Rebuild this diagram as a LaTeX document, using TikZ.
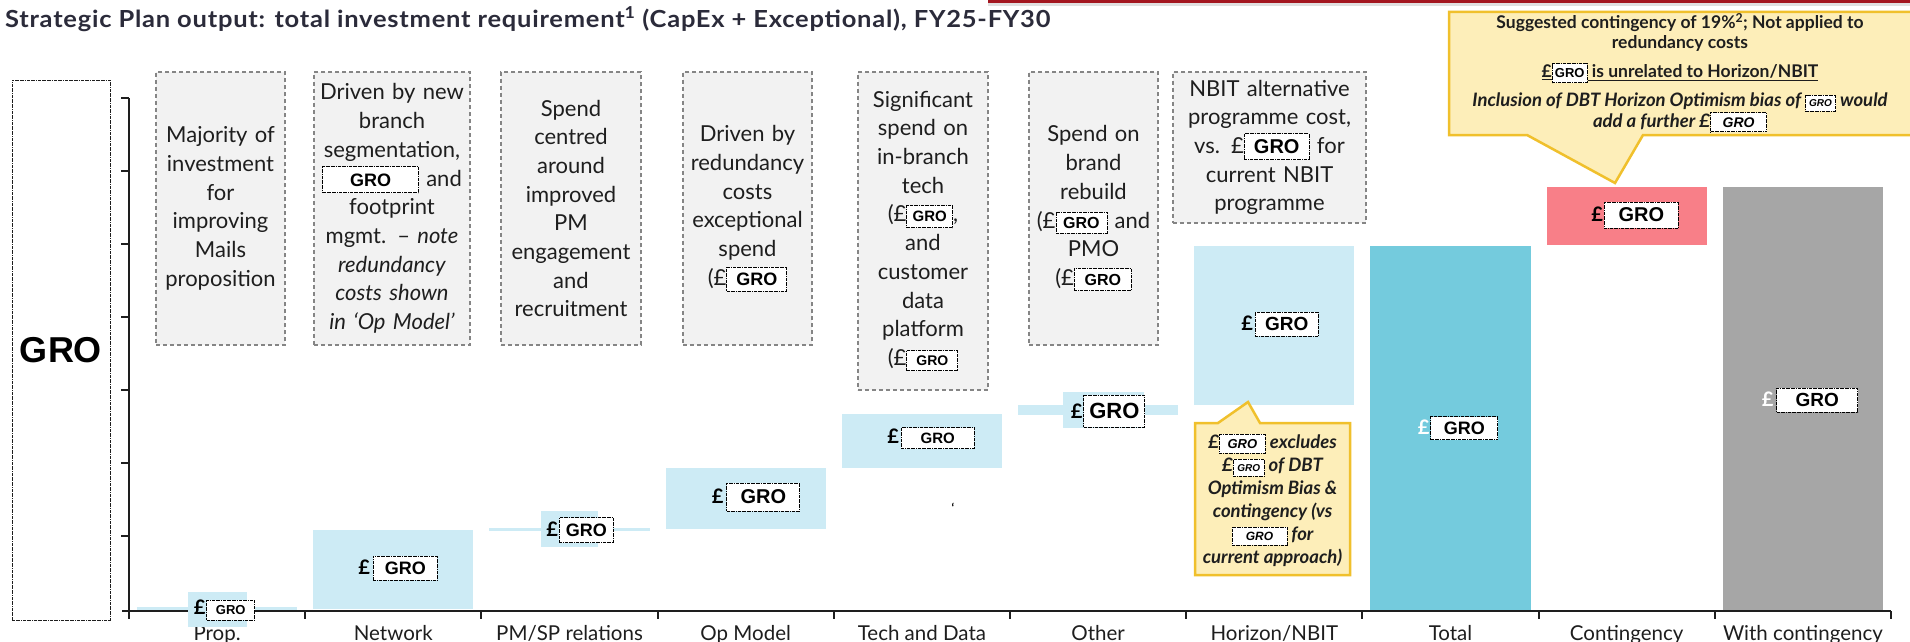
\documentclass[tikz,border=0pt]{standalone}
\usepackage{fontspec}
\setmainfont{Lato}
\newfontfamily\arialf{Liberation Sans}
\newfontfamily\titlefont[LetterSpace=3]{Lato}

\definecolor{barlight}{HTML}{CDEBF5}
\definecolor{bartotal}{HTML}{74CBDD}
\definecolor{barcont}{HTML}{F87F88}
\definecolor{bargray}{HTML}{A6A6A6}
\definecolor{notefill}{HTML}{F2F2F2}
\definecolor{noteline}{HTML}{858585}
\definecolor{callfill}{HTML}{FDEEB9}
\definecolor{callline}{HTML}{F0C02C}
\definecolor{titlecol}{HTML}{2B2B3A}
\definecolor{inkcol}{HTML}{1E1E1E}
\definecolor{rulered}{HTML}{A3161F}

\tikzset{
  grobox/.style={draw=black, fill=white, densely dash dot, line width=0.8pt, inner sep=0pt, text=black},
  notebox/.style={draw=noteline, fill=notefill, dash pattern=on 4pt off 3pt, line width=1.4pt,
    align=center, inner xsep=2pt, inner ysep=0pt, font=\fontsize{22}{28.7}\selectfont, text=inkcol},
  catlabel/.style={anchor=base, inner sep=0pt, font=\fontsize{20.5}{24}\selectfont, text=inkcol},
  barlabel/.style={inner sep=0pt, text=black, font=\bfseries\fontsize{20}{24}\selectfont},
  calltext/.style={align=center, inner sep=0pt, font=\bfseries\fontsize{17.5}{19.5}\selectfont, text=inkcol},
  axisline/.style={draw=inkcol, line width=2.6pt},
}

% dash-dot "GRO" placeholder box: width, height, font size
\newcommand\gro[3]{\tikz[baseline=(gro.base)]\node[grobox, minimum width=#1pt, minimum height=#2pt,
  font=\arialf\bfseries\fontsize{#3}{#3}\selectfont] (gro) {GRO};}

\begin{document}
\begin{tikzpicture}[x=1pt,y=-1pt]
\useasboundingbox (0,0) rectangle (1910,642);
\fill[white] (0,0) rectangle (1910,642);

% header rule
\fill[black!12] (988,2.5) rectangle (1910,6);
\fill[rulered] (988,0) rectangle (1910,2.6);

% title
\node[anchor=base west, inner sep=0pt, font=\titlefont\bfseries\fontsize{23.5}{26}\selectfont, text=titlecol] (title) at (5,28)
  {\scalebox{1.085}[1]{Strategic Plan output: total investment requirement\textsuperscript{1} (CapEx + Exceptional), FY25-FY30}};

% side placeholder
\node[draw=inkcol, densely dash dot, line width=0.9pt, minimum width=98pt, minimum height=540pt, inner sep=0pt] (side) at (61,350) {};
\node[inner sep=0pt, font=\arialf\bfseries\fontsize{36}{36}\selectfont] (sidegro) at (61,350) {GRO};

% commentary boxes
\node[notebox, minimum width=129pt, minimum height=273pt, text width=125pt] (n1) at (220.5,208.5)
  {Majority of\\investment\\for\\improving\\Mails\\proposition};
\node[notebox, minimum width=156pt, minimum height=273pt, text width=152pt] (n2) at (392,208.5)
  {Driven by new\\branch\\segmentation,\\\gro{96}{26}{18} and\\footprint\\mgmt. – \textit{note}\\\textit{redundancy}\\\textit{costs shown}\\\textit{in ‘Op Model’}};
\node[notebox, minimum width=140pt, minimum height=273pt, text width=136pt] (n3) at (571,208.5)
  {Spend\\centred\\around\\improved\\PM\\engagement\\and\\recruitment};
\node[notebox, minimum width=129pt, minimum height=273pt, text width=125pt] (n4) at (747.5,208.5)
  {Driven by\\redundancy\\costs\\exceptional\\spend\\(£\gro{60}{24}{18}};
\node[notebox, minimum width=130pt, minimum height=318pt, text width=126pt] (n5) at (923,231)
  {Significant\\spend on\\in-branch\\tech\\(£\gro{46}{22}{15},\\and\\customer\\data\\platform\\(£\gro{51}{20}{14}};
\node[notebox, minimum width=129pt, minimum height=273pt, text width=125pt] (n6) at (1093.5,208.5)
  {Spend on\\brand\\rebuild\\(£\gro{51}{21}{16} and\\PMO\\(£\gro{57}{22}{16}};
\node[notebox, minimum width=193pt, minimum height=151pt, text width=189pt] (n7) at (1269.5,147.5)
  {NBIT alternative\\programme cost,\\vs. £\gro{65}{26}{20} for\\current NBIT\\programme};

% waterfall bars
\fill[barlight] (137,607) rectangle (297.2,610);
\fill[barlight] (313.2,530) rectangle (473.4,609);
\fill[barlight] (489.4,528) rectangle (649.6,531);
\fill[barlight] (665.6,468) rectangle (825.8,529);
\fill[barlight] (841.8,414) rectangle (1002,468);
\fill[barlight] (1018,405) rectangle (1178.2,415);
\fill[barlight] (1194.2,246) rectangle (1354.4,405);
\fill[bartotal] (1370.4,246) rectangle (1530.6,610);
\fill[barcont] (1546.6,187) rectangle (1706.8,245);
\fill[bargray] (1722.8,187) rectangle (1883,610);

% axes
\draw[axisline] (122,611) -- (1891,611);
\draw[axisline] (129,98) -- (129,611);
\foreach \yy in {98,171,244,317,390,463,536}
  \draw[axisline, line width=2.4pt] (121,\yy) -- (129,\yy);
\foreach \ii in {0,...,10}
  \draw[axisline, line width=2pt] ({129+176.2*\ii},611) -- ({129+176.2*\ii},619);

% category labels
\node[catlabel] (c0) at (217.1,640) {Prop.};
\node[catlabel] (c1) at (393.3,640) {Network};
\node[catlabel] (c2) at (569.5,640) {PM/SP relations};
\node[catlabel] (c3) at (745.7,640) {Op Model};
\node[catlabel] (c4) at (921.9,640) {Tech and Data};
\node[catlabel] (c5) at (1098.1,640) {Other};
\node[catlabel] (c6) at (1274.3,640) {Horizon/NBIT};
\node[catlabel] (c7) at (1450.5,640) {Total};
\node[catlabel] (c8) at (1626.7,640) {Contingency};
\node[catlabel] (c9) at (1802.9,640) {With contingency};

% value labels
\fill[barlight] (188,592) rectangle (247,627);
\fill[barlight] (541,511) rectangle (598,547);
\fill[barlight] (1063,392) rectangle (1144,428);
\node[barlabel] (v0) at (224.5,610) {£\hspace{1pt}\gro{48}{20}{13}};
\node[barlabel] (v1) at (398,568) {£\hspace{3pt}\gro{64}{24}{18}};
\node[barlabel] (v2) at (580,530) {£\hspace{1pt}\gro{54}{25}{18}};
\node[barlabel] (v3) at (756,497) {£\hspace{3pt}\gro{73}{28}{20}};
\node[barlabel] (v4) at (931,438) {£\hspace{2pt}\gro{73}{21}{15}};
\node[barlabel] (v5) at (1108,411) {£\hspace{1pt}\gro{61}{32}{22}};
\node[barlabel] (v6) at (1280,324) {£\hspace{2pt}\gro{63}{24}{19}};
\node[barlabel] (v7) at (1458,428) {{\color{white}£}\hspace{1pt}\gro{67}{23}{18}};
\node[barlabel] (v8) at (1635,215) {£\hspace{1pt}\gro{74}{26}{20}};
\node[barlabel] (v9) at (1810,400) {{\color{white}£}\hspace{3pt}\gro{81}{24}{19}};

\node[inner sep=0pt, font=\bfseries\fontsize{12}{12}\selectfont] (mark) at (953,508) {‘};

% contingency callout
\filldraw[fill=callfill, draw=callline, line width=2.5pt] (1449,12) -- (1916,12) -- (1916,135) -- (1643,135)
  -- (1615,183) -- (1527,135) -- (1449,135) -- cycle;
\node[calltext] (cA) at (1680,32.5) {Suggested contingency of 19\%\textsuperscript{2}; Not applied to\\redundancy costs};
\node[calltext] (cB) at (1680,73) {\underline{£}\gro{35}{19}{13}\underline{ is unrelated to Horizon/NBIT}};
\node[calltext, font=\bfseries\itshape\fontsize{18.5}{19.5}\selectfont] (cC) at (1680,112.5)
  {Inclusion of DBT Horizon Optimism bias of \gro{30}{16}{10} would\\add a further £\gro{56}{19}{14}};

% Horizon/NBIT callout
\filldraw[fill=callfill, draw=callline, line width=2.5pt] (1195,423) -- (1218,423) -- (1248,402) -- (1260,423)
  -- (1350,423) -- (1350,575) -- (1195,575) -- cycle;
\node[calltext, font=\bfseries\itshape\fontsize{18.5}{23}\selectfont] (hnote) at (1272.5,500)
  {£\gro{46}{19}{13} excludes\\£\gro{31}{17}{10} of DBT\\Optimism Bias \&\\contingency (vs\\\gro{55}{18}{12} for\\current approach)};
\end{tikzpicture}
\end{document}
